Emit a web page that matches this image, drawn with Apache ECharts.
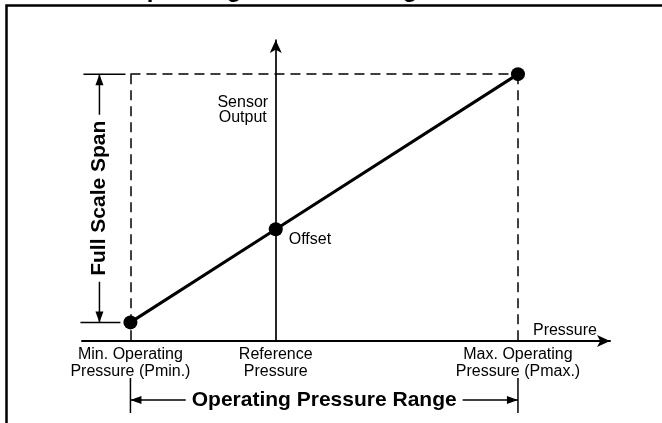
<!DOCTYPE html>
<html>
<head>
<meta charset="utf-8">
<script src="https://cdn.jsdelivr.net/npm/echarts@6/dist/echarts.min.js"></script>
<style>
  html, body { margin: 0; padding: 0; background: #fff; }
  #main { width: 662px; height: 423px; }
</style>
</head>
<body>
<div id="main"></div>
<script>
// pressure relative to the reference pressure, sensor output in volts
var pressure = [-3, 0, 5];
var output = [0.5, 2.0, 4.5];
var pressureNames = ['Min. Operating\nPressure (Pmin.)', 'Reference\nPressure', 'Max. Operating\nPressure (Pmax.)'];
var pointNames = ['', 'Offset', ''];
var xRange = [-4, 6.9];
var yRange = [0.2, 5.05];

var font = 'Arial, "Liberation Sans", sans-serif';
var chart = echarts.init(document.getElementById('main'));

var option = {
  animation: false,
  grid: { left: 82, right: 52, top: 40, bottom: 82 },
  xAxis: {
    type: 'value',
    min: xRange[0],
    max: xRange[1],
    splitLine: { show: false },
    axisTick: { show: false },
    axisLine: {
      onZero: false,
      symbol: ['none', 'arrow'],
      symbolSize: [9, 13],
      lineStyle: { color: '#000', width: 2 }
    },
    axisLabel: {
      customValues: pressure,
      formatter: function (v) { return pressureNames[pressure.indexOf(v)]; },
      color: '#000',
      fontFamily: font,
      fontSize: 16,
      lineHeight: 17,
      margin: 5
    }
  },
  yAxis: {
    type: 'value',
    min: yRange[0],
    max: yRange[1],
    splitLine: { show: false },
    axisTick: { show: false },
    axisLabel: { show: false },
    axisLine: {
      onZero: true,
      symbol: ['none', 'arrow'],
      symbolSize: [9, 13],
      lineStyle: { color: '#000', width: 1.7 }
    }
  },
  series: [{
    type: 'line',
    data: pressure.map(function (p, i) { return [p, output[i]]; }),
    symbol: 'circle',
    symbolSize: 14,
    itemStyle: { color: '#000' },
    lineStyle: { color: '#000', width: 3 },
    label: {
      show: true,
      position: 'right',
      distance: 6,
      offset: [0, 10],
      formatter: function (p) { return pointNames[p.dataIndex]; },
      color: '#000',
      fontFamily: font,
      fontSize: 16
    },
    markLine: {
      silent: true,
      symbol: ['none', 'none'],
      label: { show: false },
      lineStyle: { color: '#000', width: 1.5, type: [10, 6] },
      data: [
        [{ coord: [pressure[0], output[2]] }, { coord: [pressure[2], output[2]] }],
        [{ coord: [pressure[0], output[2]] }, { coord: [pressure[0], yRange[0]] }],
        [{ coord: [pressure[2], output[2]] }, { coord: [pressure[2], yRange[0]] }]
      ]
    }
  }]
};
chart.setOption(option);

function px(x, y) { return chart.convertToPixel({ gridIndex: 0 }, [x, y]); }
function seg(x1, y1, x2, y2, w) {
  return { type: 'line', shape: { x1: x1, y1: y1, x2: x2, y2: y2 }, style: { stroke: '#000', lineWidth: w || 1.5 } };
}
function head(x, y, dir) {
  var L = 11, W = 4, pts;
  if (dir === 'up') pts = [[x, y], [x - W, y + L], [x + W, y + L]];
  if (dir === 'down') pts = [[x, y], [x - W, y - L], [x + W, y - L]];
  if (dir === 'left') pts = [[x, y], [x + L, y - W], [x + L, y + W]];
  if (dir === 'right') pts = [[x, y], [x - L, y - W], [x - L, y + W]];
  return { type: 'polygon', shape: { points: pts }, style: { fill: '#000' } };
}

var lo = px(pressure[0], output[0]);
var hi = px(pressure[2], output[2]);
var ref = px(pressure[1], output[1]);
var axisY = px(pressure[0], yRange[0])[1];
var spanX = lo[0] - 31;
var rangeY = axisY + 59;

var els = [
  { type: 'polyline', shape: { points: [[6.5, 423], [6.5, 5.5], [662, 5.5]] }, style: { stroke: '#000', fill: null, lineWidth: 2.5 } },
  { type: 'text', x: 128, y: 2, style: { text: 'Operating Pressure Range', font: 'bold 24px ' + font, fill: '#000', verticalAlign: 'bottom' } },
  // full scale span
  seg(lo[0] - 47, hi[1], lo[0] - 5, hi[1]),
  seg(lo[0] - 50, lo[1], lo[0] - 10, lo[1]),
  seg(spanX, hi[1], spanX, lo[1]),
  head(spanX, hi[1], 'up'),
  head(spanX, lo[1], 'down'),
  { type: 'text', x: spanX, y: (lo[1] + hi[1]) / 2, rotation: Math.PI / 2, style: { text: 'Full Scale Span', font: 'bold 21px ' + font, fill: '#000', align: 'center', verticalAlign: 'middle', backgroundColor: '#fff', padding: [0, 6] } },
  // operating pressure range
  seg(lo[0], axisY + 37, lo[0], axisY + 72),
  seg(hi[0], axisY + 37, hi[0], axisY + 72),
  seg(lo[0], rangeY, hi[0], rangeY),
  head(lo[0], rangeY, 'left'),
  head(hi[0], rangeY, 'right'),
  { type: 'text', x: (lo[0] + hi[0]) / 2, y: rangeY, style: { text: 'Operating Pressure Range', font: 'bold 21px ' + font, fill: '#000', align: 'center', verticalAlign: 'middle', backgroundColor: '#fff', padding: [0, 6] } },
  // axis captions
  { type: 'text', x: ref[0] - 33, y: hi[1] + 36, style: { text: 'Sensor\nOutput', font: '16px ' + font, lineHeight: 15, fill: '#000', align: 'center', verticalAlign: 'middle' } },
  { type: 'text', x: hi[0] + 15, y: axisY - 2, style: { text: 'Pressure', font: '16px ' + font, fill: '#000', align: 'left', verticalAlign: 'bottom' } }
];
chart.setOption({ graphic: els.map(function (e) { e.z = 10; e.silent = true; return e; }) });
</script>
</body>
</html>
